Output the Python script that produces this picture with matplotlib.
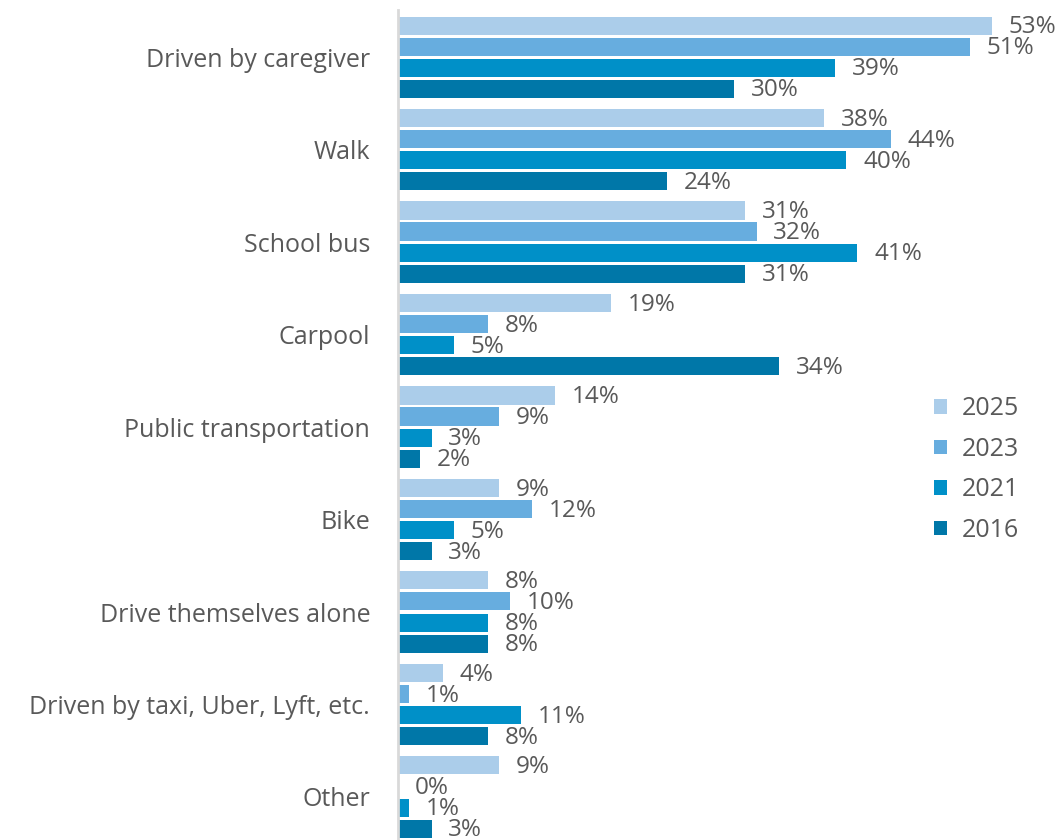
import numpy as np
import matplotlib
matplotlib.use('Agg')
import matplotlib.pyplot as plt

categories = ['Driven by caregiver', 'Walk', 'School bus', 'Carpool',
              'Public transportation', 'Bike', 'Drive themselves alone',
              'Driven by taxi, Uber, Lyft, etc.', 'Other']
years = ['2025', '2023', '2021', '2016']
v2025 = [53, 38, 31, 19, 14, 9, 8, 4, 9]
v2023 = [51, 44, 32, 8, 9, 12, 10, 1, 0]
v2021 = [39, 40, 41, 5, 3, 5, 8, 11, 1]
v2016 = [30, 24, 31, 34, 2, 3, 8, 8, 3]
colors = ['#abcdea', '#67addf', '#0090c8', '#0077a8']

INK = '#595959'
plt.rcParams.update({'font.family': ['Open Sans', 'DejaVu Sans']})

fig = plt.figure(figsize=(10.57, 8.4), dpi=100)
ax = fig.add_axes([0.3765, 0.0, 0.6235, 0.988])

y = np.arange(len(categories))
h = 0.195
offs = [-0.341, -0.114, 0.114, 0.341]
for vals, yr, c, o in zip([v2025, v2023, v2021, v2016], years, colors, offs):
    ax.barh(y + o, vals, height=h, color=c, label=yr)
    for yi, v in zip(y, vals):
        ax.text(v + 1.5, yi + o + 0.02, f'{v}%', va='center', ha='left',
                fontsize=17.5, color=INK)

ax.set_xlim(0, 58.8)
ax.set_ylim(8.465, -0.508)
ax.set_yticks(y, categories, fontsize=18, color=INK)
ax.tick_params(axis='y', length=0, pad=20)
ax.set_xticks([])
for sp in ['top', 'right', 'bottom']:
    ax.spines[sp].set_visible(False)
ax.spines['left'].set_color('#d9d9d9')
ax.spines['left'].set_linewidth(2)

leg = fig.legend(loc='center left', bbox_to_anchor=(0.884, 0.441),
                 bbox_transform=fig.transFigure, frameon=False,
                 fontsize=18, handlelength=0.5, handleheight=0.5,
                 handletextpad=0.6, labelspacing=0.62, borderaxespad=0,
                 borderpad=0)
for t in leg.get_texts():
    t.set_color(INK)

fig.savefig('out.png', dpi=100)
